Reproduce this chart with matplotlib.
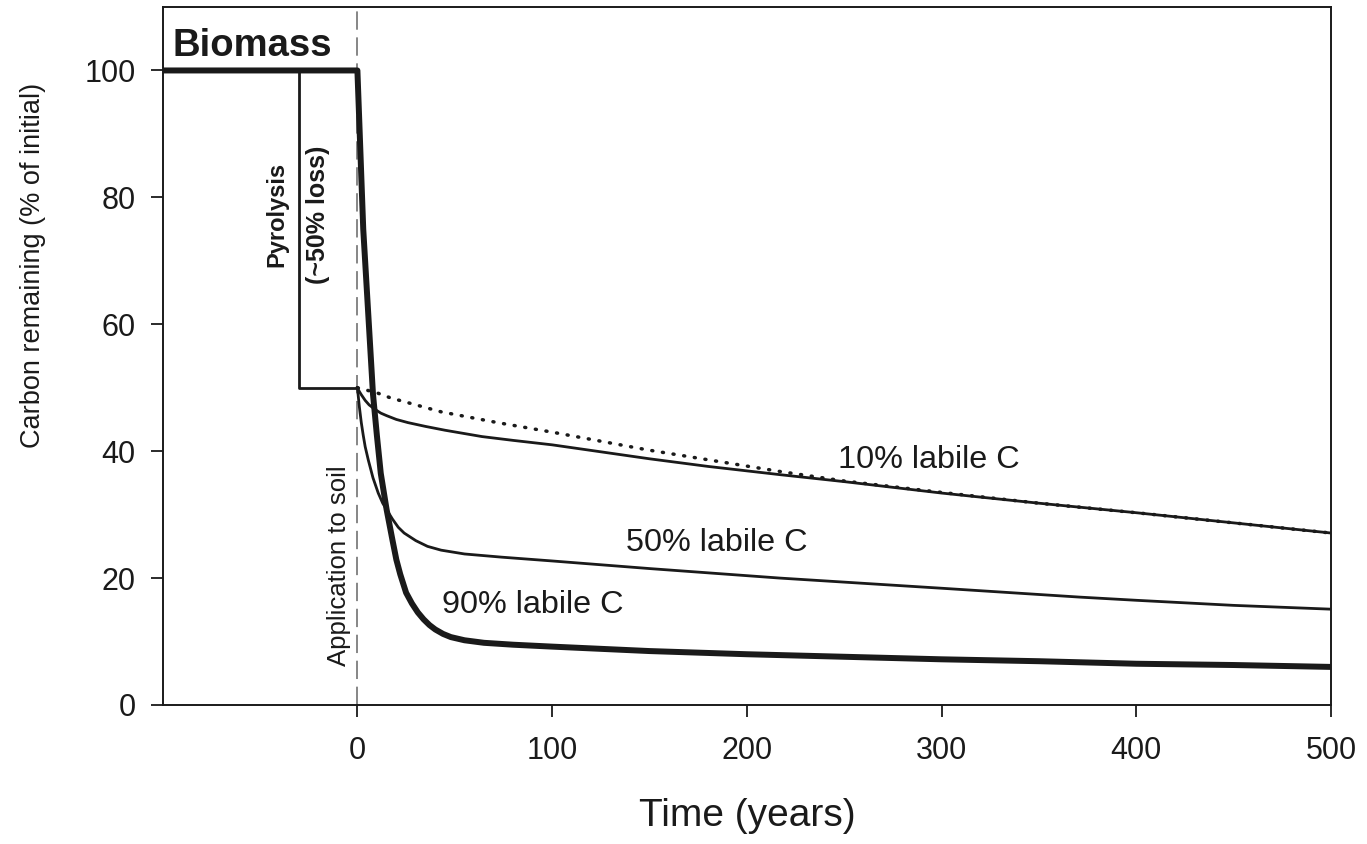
import matplotlib
matplotlib.use('Agg')
import matplotlib.pyplot as plt

plt.rcParams['font.family'] = ['Liberation Sans', 'DejaVu Sans']

# biomass decomposition (thick line), starting flat at 100 before application
biomass_t = [-100, 0, 1, 2, 3, 4, 5, 6, 7, 8, 10, 12, 15, 18, 20, 22, 25, 28, 31, 34, 37,
             40, 44, 48, 55, 65, 80, 100, 150, 200, 250, 300, 350, 400, 450, 500]
biomass_c = [100, 100, 91.7, 83.3, 75, 69.8, 64.6, 59.4, 54.2, 49, 42.5, 36.5, 30.8, 26,
             22.9, 20.6, 17.7, 16.0, 14.6, 13.5, 12.6, 11.9, 11.2, 10.7, 10.2, 9.8, 9.5,
             9.2, 8.5, 8.0, 7.6, 7.2, 6.9, 6.5, 6.3, 6.0]

# pyrolysis step (~50% loss)
pyro_t = [-30, -30, 0]
pyro_c = [100, 50, 50]

# char decomposition curves
lab10_t = [0, 1, 2, 4, 6, 9, 12, 15, 20, 26, 35, 45, 64, 80, 100, 125, 150, 180, 217, 250,
           300, 350, 400, 450, 500]
lab10_c = [50, 49.4, 48.9, 48.0, 47.3, 46.6, 46.0, 45.6, 45.0, 44.5, 43.9, 43.3, 42.3,
           41.7, 41.0, 39.9, 38.8, 37.6, 36.3, 35.2, 33.4, 31.8, 30.3, 28.7, 27.1]

lab50_t = [0, 0.5, 1, 2, 3, 4, 5.6, 8, 10.7, 13, 15, 18, 21, 24, 30, 36, 43, 55, 74, 100,
           150, 217, 300, 371, 400, 450, 500]
lab50_c = [50, 48.5, 47, 44.5, 42.5, 40.7, 38.6, 35.8, 33.4, 31.8, 30.8, 29.3, 28.0, 27.1,
           25.9, 25.0, 24.4, 23.8, 23.3, 22.7, 21.5, 20.0, 18.4, 17.0, 16.5, 15.7, 15.1]

stable_t = [0, 10, 17, 30, 43, 72, 100, 149, 217, 250, 300, 350, 400, 450, 500]
stable_c = [50, 49.2, 48.4, 47.3, 46.2, 44.5, 43.0, 40.2, 36.8, 35.3, 33.5, 31.8, 30.3, 28.7, 27.1]

xticks = [0, 100, 200, 300, 400, 500]
yticks = [0, 20, 40, 60, 80, 100]

ink = '#1a1a1a'

fig = plt.figure(figsize=(13.67, 8.44), dpi=100)
ax = fig.add_axes([0.119, 0.1647, 0.8547, 0.827])

ax.axvline(0, color='#666666', lw=1.1, dashes=(12, 5), zorder=1)

ax.plot(pyro_t, pyro_c, color=ink, lw=2.0, zorder=2)
ax.plot(stable_t, stable_c, color=ink, lw=2.5, linestyle=(0, (0.3, 2.8)),
        dash_capstyle='round', zorder=2)
ax.plot(lab10_t, lab10_c, color=ink, lw=2.0, zorder=3)
ax.plot(lab50_t, lab50_c, color=ink, lw=2.0, zorder=3)
ax.plot(biomass_t, biomass_c, color=ink, lw=4.3, zorder=4)

ax.text(-95, 102.2, 'Biomass', fontsize=27.5, fontweight='bold', ha='left', va='baseline', color=ink)
ax.text(-41.5, 77.3, 'Pyrolysis', fontsize=17, fontweight='bold', rotation=90,
        ha='center', va='center', color=ink)
ax.text(-20, 77.3, '(~50% loss)', fontsize=18, fontweight='bold', rotation=90,
        ha='center', va='center', color=ink)
ax.text(-9.2, 22, 'Application to soil', fontsize=18.5, rotation=90,
        ha='center', va='center', color=ink)
ax.text(293.6, 37.4, '10% labile C', fontsize=23.3, ha='center', va='baseline', color=ink)
ax.text(184.6, 24.3, '50% labile C', fontsize=23.3, ha='center', va='baseline', color=ink)
ax.text(90.3, 14.5, '90% labile C', fontsize=23.3, ha='center', va='baseline', color=ink)

ax.set_xlim(-100, 500)
ax.set_ylim(0, 110)
ax.set_xticks(xticks)
ax.set_yticks(yticks)
ax.tick_params(axis='both', direction='out', length=8.6, width=1.3, labelsize=22,
               colors=ink)
ax.tick_params(axis='x', pad=14)
ax.tick_params(axis='y', pad=11)
for sp in ax.spines.values():
    sp.set_linewidth(1.4)
    sp.set_color(ink)

fig.text(747 / 1367, (844 - 816) / 844, 'Time (years)', fontsize=28,
         ha='center', va='center', color=ink)
fig.text(33 / 1367, (844 - 265) / 844, 'Carbon remaining (% of initial)', fontsize=19.5,
         rotation=90, ha='center', va='center', color=ink)

fig.savefig('out.png', dpi=100)
plt.close()
